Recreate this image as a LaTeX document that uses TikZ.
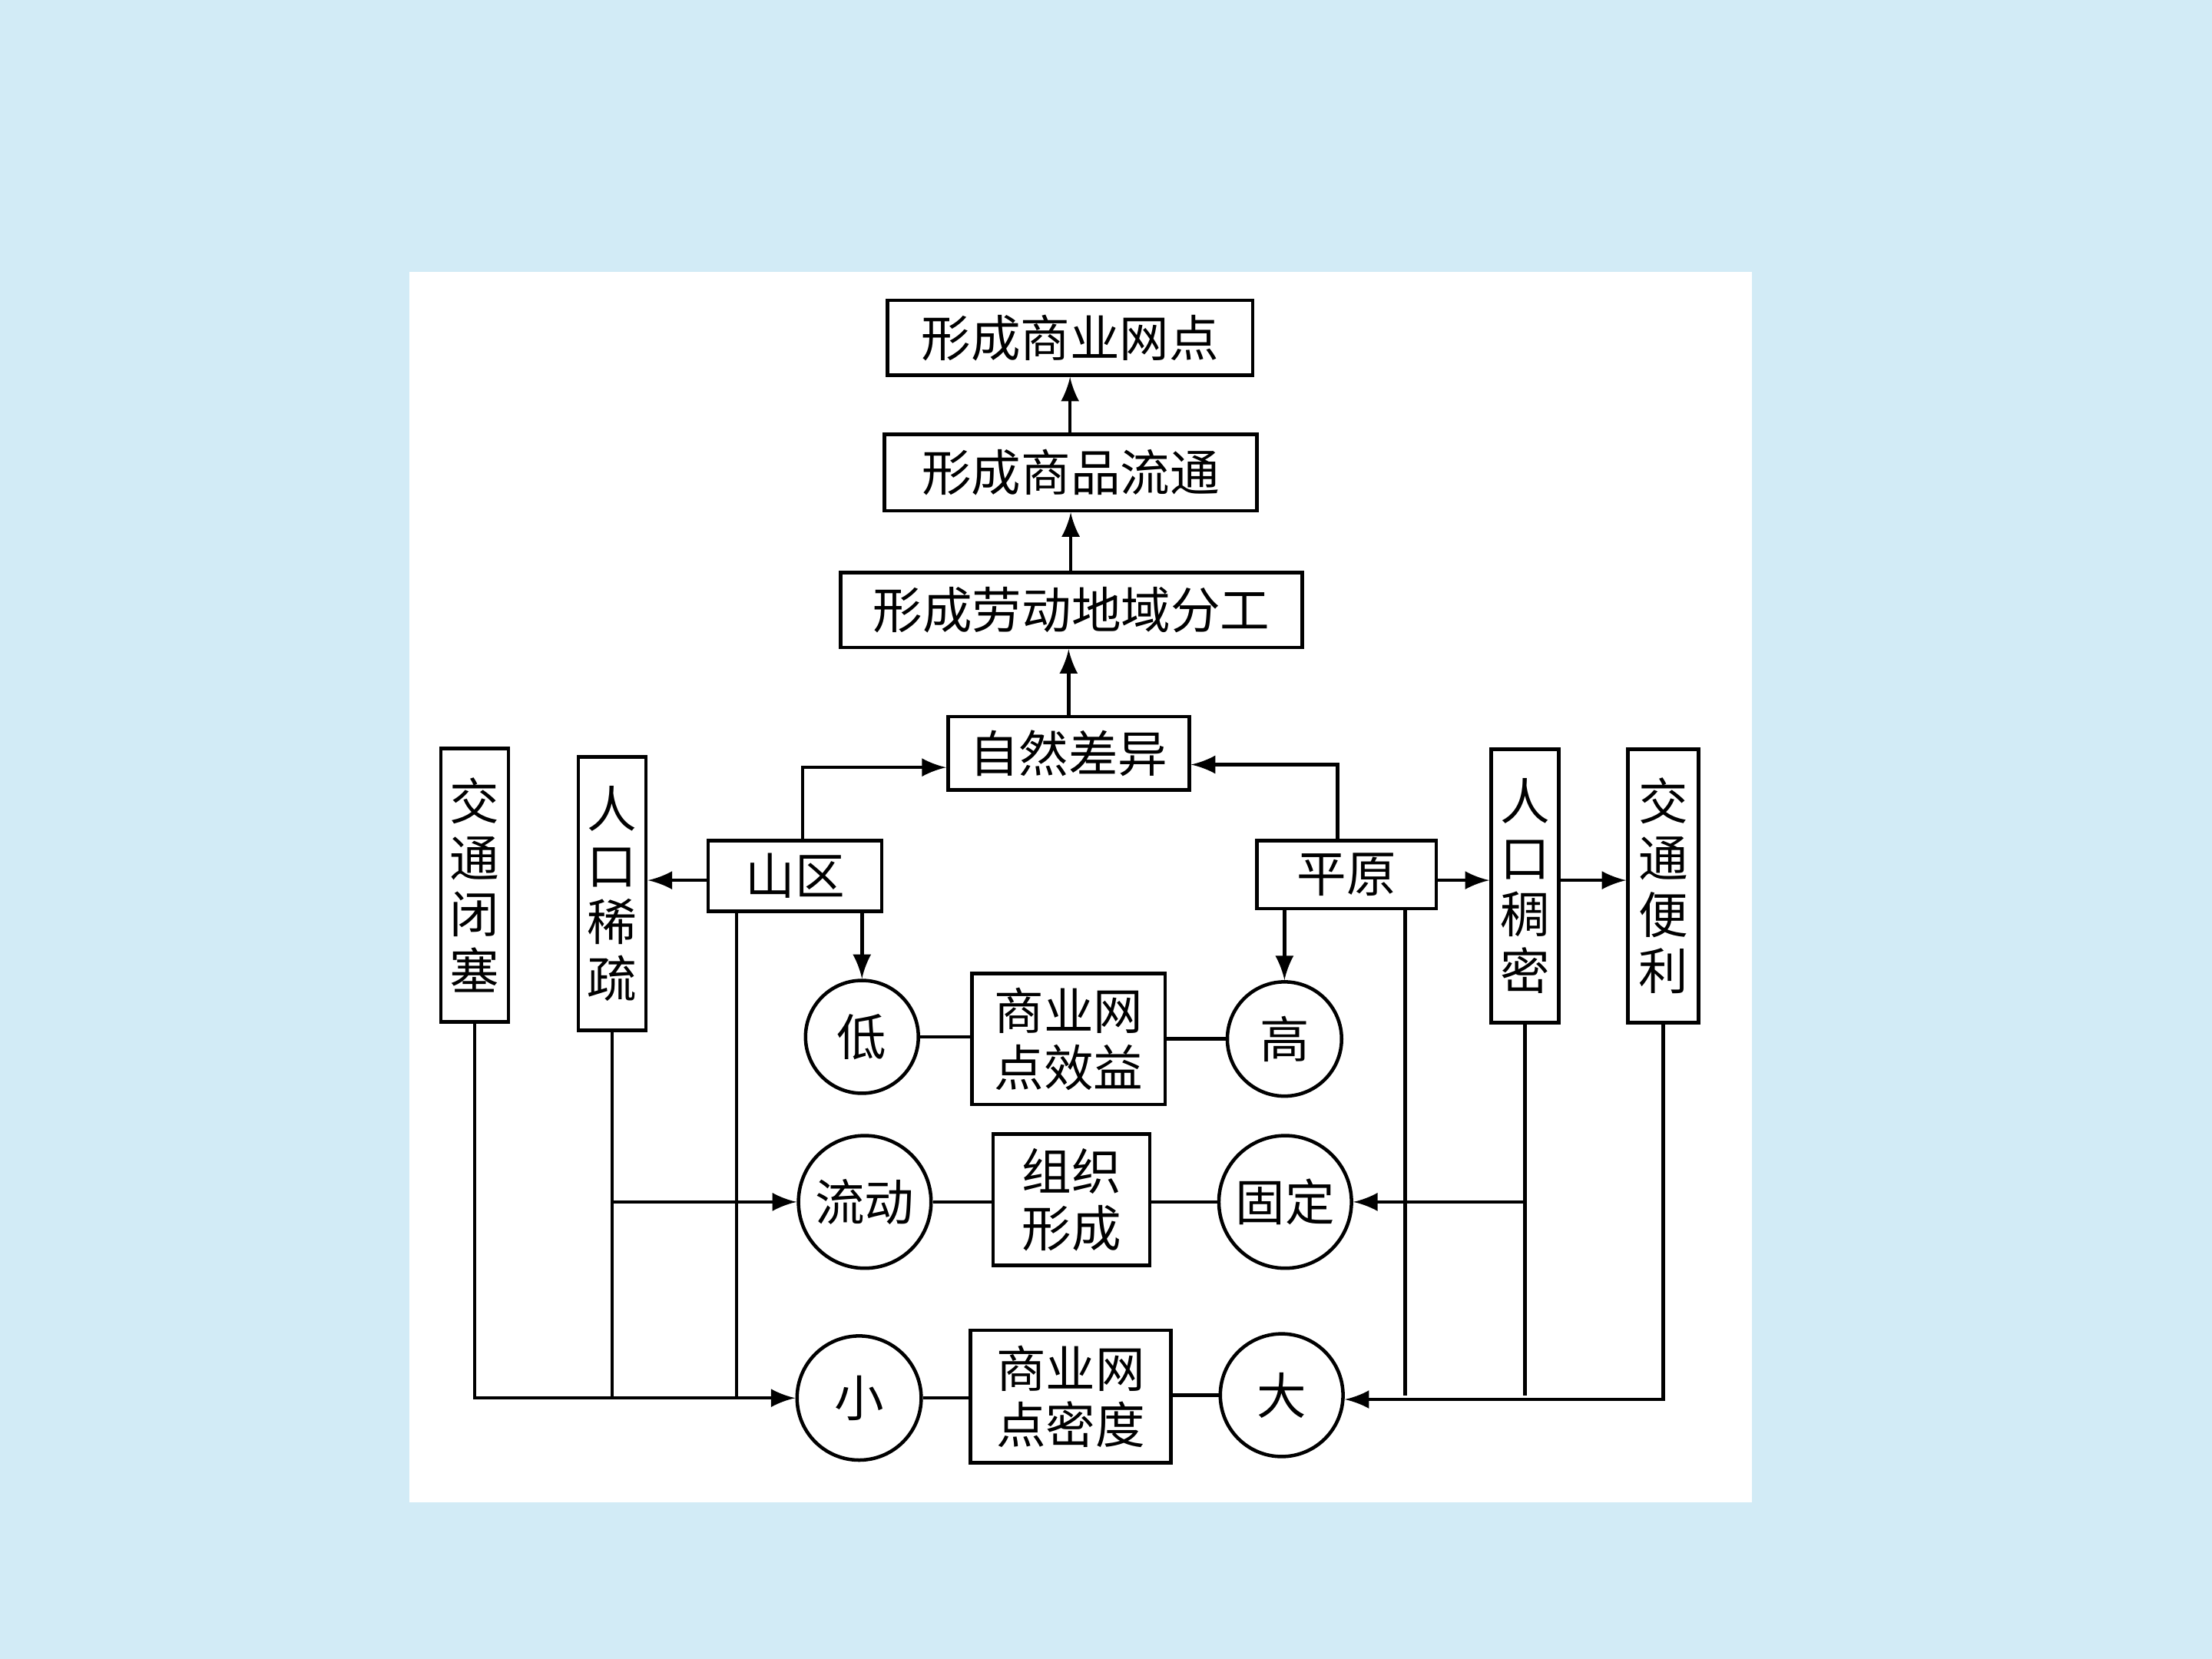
\documentclass[tikz,border=0pt]{standalone}
\usepackage{fontspec}
\setmainfont{Noto Sans CJK SC}
\usepackage{tikz}
\usetikzlibrary{arrows,positioning,calc,shapes}
\definecolor{bgblue}{RGB}{210, 235, 246}

\tikzset{
    box/.style={draw, fill=white, line width=0.7pt, inner sep=0pt, font=\fontsize{10}{11.4}\selectfont},
    vbox/.style={box, align=center, minimum width=0.48cm, minimum height=1.94cm},
    ring/.style={draw, circle, fill=white, line width=0.7pt, inner sep=0pt, font=\fontsize{10}{11.4}\selectfont},
    link/.style={line width=0.7pt}
}

\begin{document}
\begin{tikzpicture}[>=latex]
        % background and white panel
        \fill[bgblue] (0,0) rectangle (15.68,-11.76);
        \useasboundingbox (0,0) rectangle (15.68,-11.76);
        \fill[white] (2.90,-1.93) rectangle (12.42,-10.65);

        % main chain
        \node[box, minimum width=2.59cm, minimum height=0.53cm] (shwd) at (7.585,-2.395) {形成商业网点};
        \node[box, minimum width=2.64cm, minimum height=0.54cm] (splt) at (7.59,-3.35) {形成商品流通};
        \node[box, minimum width=3.27cm, minimum height=0.53cm] (ldfg) at (7.595,-4.325) {形成劳动地域分工};
        \node[box, minimum width=1.71cm, minimum height=0.52cm] (zrcy) at (7.575,-5.34) {自然差异};
        \node[box, minimum width=1.23cm, minimum height=0.50cm] (shanqu) at (5.635,-6.21) {山区};
        \node[box, minimum width=1.27cm, minimum height=0.48cm] (pingyuan) at (9.545,-6.20) {平原};

        % vertical boxes
        \node[vbox] (jtbs) at (3.365,-6.275) {交\\通\\闭\\塞};
        \node[vbox] (rkxs) at (4.34,-6.335) {人\\口\\稀\\疏};
        \node[vbox] (rkcm) at (10.81,-6.28) {人\\口\\稠\\密};
        \node[vbox, minimum width=0.50cm] (jtbl) at (11.79,-6.28) {交\\通\\便\\利};

        % middle rows
        \node[box, align=center, minimum width=1.37cm, minimum height=0.93cm] (xiaoyi) at (7.575,-7.365) {商业网\\点效益};
        \node[box, align=center, minimum width=1.11cm, minimum height=0.93cm] (zuzhi) at (7.595,-8.505) {组织\\形成};
        \node[box, align=center, minimum width=1.42cm, minimum height=0.94cm] (midu) at (7.59,-9.90) {商业网\\点密度};

        \node[ring, minimum size=0.80cm] (di) at (6.11,-7.35) {低};
        \node[ring, minimum size=0.81cm] (gao) at (9.105,-7.365) {高};
        \node[ring, minimum size=0.94cm] (liudong) at (6.13,-8.52) {流动};
        \node[ring, minimum size=0.94cm] (guding) at (9.11,-8.52) {固定};
        \node[ring, minimum size=0.88cm] (xiao) at (6.09,-9.91) {小};
        \node[ring, minimum size=0.87cm] (da) at (9.085,-9.89) {大};

        % arrows up the chain
        \draw[link, ->] (zrcy.north) -- (zrcy.north |- ldfg.south);
        \draw[link, ->] (splt.south |- ldfg.north) -- (splt.south);
        \draw[link, ->] (shwd.south |- splt.north) -- (shwd.south);
        \draw[link, ->] ([xshift=0.055cm]shanqu.north) |- ([yshift=-0.1cm]zrcy.west);
        \draw[link, ->] ([xshift=-0.065cm]pingyuan.north) |- ([yshift=-0.08cm]zrcy.east);

        % sideways
        \draw[link, ->] ([yshift=-0.03cm]shanqu.west) -- ([yshift=-0.03cm]shanqu.west -| rkxs.east);
        \draw[link, ->] ([yshift=-0.04cm]pingyuan.east) -- ([yshift=-0.04cm]pingyuan.east -| rkcm.west);
        \draw[link, ->] ([yshift=-0.04cm]pingyuan.east -| rkcm.east) -- ([yshift=-0.04cm]pingyuan.east -| jtbl.west);

        % down to the circles
        \draw[link, ->] (di.north |- shanqu.south) -- (di.north);
        \draw[link, ->] (gao.north |- pingyuan.south) -- (gao.north);

        % links through the middle boxes
        \draw[link] (di.east) -- (di.east -| xiaoyi.west);
        \draw[link] (gao.west) -- (gao.west -| xiaoyi.east);
        \draw[link] (liudong.east) -- (liudong.east -| zuzhi.west);
        \draw[link] (guding.west) -- (guding.west -| zuzhi.east);
        \draw[link] (xiao.east) -- (xiao.east -| midu.west);
        \draw[link] (da.west) -- (da.west -| midu.east);

        % left side lines
        \draw[link, ->] (jtbs.south) |- (xiao.west);
        \draw[link] (rkxs.south) -- (rkxs.south |- xiao.west);
        \draw[link] ([xshift=-0.415cm]shanqu.south) -- ([xshift=-0.415cm]shanqu.south |- xiao.west);
        \draw[link, ->] (rkxs.south |- liudong.west) -- (liudong.west);

        % right side lines
        \draw[link, ->] (jtbl.south) |- ([yshift=-0.03cm]da.east);
        \draw[link] (rkcm.south) -- (rkcm.south |- da.east);
        \draw[link] ([xshift=0.415cm]pingyuan.south) -- ([xshift=0.415cm]pingyuan.south |- da.east);
        \draw[link, ->] (rkcm.south |- guding.east) -- (guding.east);
    \end{tikzpicture}
\end{document}
